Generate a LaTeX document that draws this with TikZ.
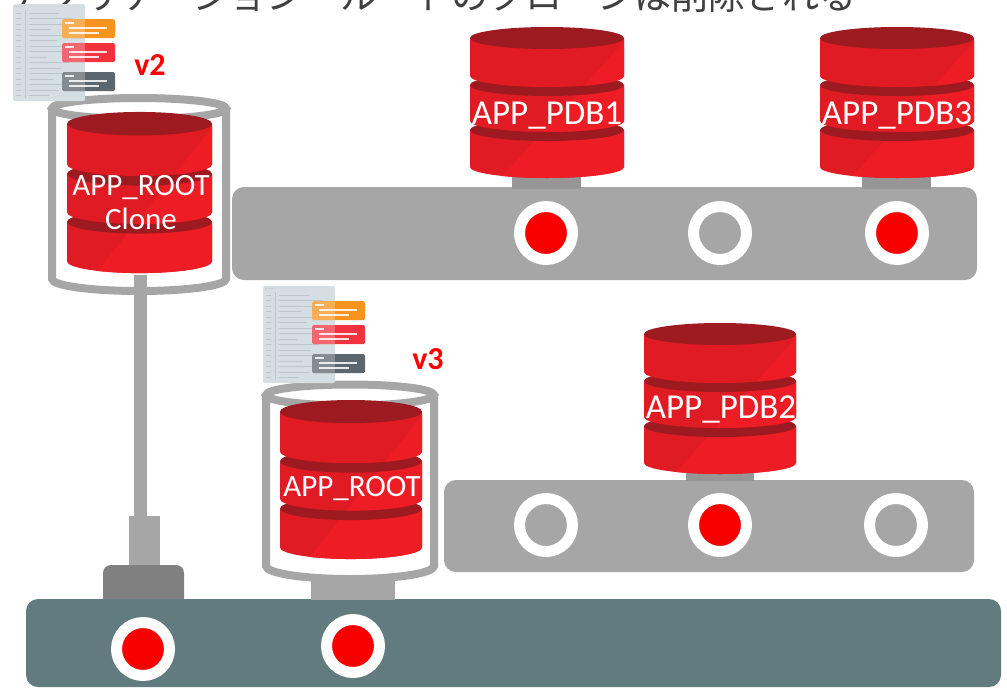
\documentclass[tikz,border=0pt]{standalone}
\usepackage{fontspec}
\setmainfont{Carlito}
\newfontfamily\jpfont{Noto Sans CJK JP}

\definecolor{dbred}{HTML}{E01B23}
\definecolor{dbredlight}{HTML}{EE1C25}
\definecolor{dbdark}{HTML}{9C1A20}
\definecolor{railgray}{HTML}{A6A6A6}
\definecolor{stemgray}{HTML}{969696}
\definecolor{blockgray}{HTML}{808080}
\definecolor{baseteal}{HTML}{627B7E}
\definecolor{portred}{HTML}{F80000}
\definecolor{vred}{HTML}{FF0000}
\definecolor{titlegray}{HTML}{404040}
\definecolor{pagecol}{HTML}{D5DEE2}
\definecolor{pageline}{HTML}{BAC7CD}
\definecolor{cardorange}{HTML}{F7941D}
\definecolor{cardred}{HTML}{F0333F}
\definecolor{carddark}{HTML}{5C666E}

\tikzset{
  cupline/.style={draw=railgray, line width=8pt},
  port/.style={circle, draw=white, line width=11pt, minimum size=53pt, inner sep=0pt},
  portfull/.style={port, fill=portred},
  portempty/.style={port, fill=railgray},
  dblabel/.style={text=white, anchor=base, inner sep=0pt, font=\fontsize{35}{40}\selectfont},
  rootlabel/.style={dblabel, font=\fontsize{31}{36}\selectfont},
  verlabel/.style={text=vred, anchor=base, inner sep=0pt, font=\bfseries\fontsize{32}{36}\selectfont},
  railbox/.style={fill=railgray, rounded corners=12pt},
}

% one slice of a database drum: #1 top-face centre, #2 bottom edge centre (local y)
\newcommand\dbslice[2]{%
  \begin{scope}
    \clip (-\dbw,#1) -- (-\dbw,#2)
      .. controls (-\dbw,#2+6.07) and (-0.552*\dbw,#2+11) .. (0,#2+11)
      .. controls (0.552*\dbw,#2+11) and (\dbw,#2+6.07) .. (\dbw,#2)
      -- (\dbw,#1) -- cycle;
    \fill[dbred] (-1.2*\dbw,-20) rectangle (1.2*\dbw,160);
    \fill[dbredlight] (-0.6*\dbw,140) -- (1.1*\dbw,-5) -- (1.2*\dbw,-5)
      -- (1.2*\dbw,160) -- (-0.6*\dbw,160) -- cycle;
  \end{scope}
  \fill[dbdark] (0,#1) ellipse [x radius=\dbw, y radius=11];
}

% three-slice database: centre x, top-face centre y, half width, vertical scale
\newcommand\dbstack[4]{%
  \begin{scope}[shift={(#1,#2)}, yscale=#4]
    \def\dbw{#3}%
    \dbslice{92}{129}%
    \dbslice{47}{83}%
    \dbslice{0}{38}%
  \end{scope}}

% open grey container: centre x, rim centre y, base centre y, x radius, base y radius
\newcommand\dbcup[5]{%
  \fill[white] (#1,#2) ellipse [x radius=#4, y radius=10.5];
  \fill[white] (#1-#4,#2) -- (#1-#4,#3)
     .. controls (#1-#4,#3+0.552*#5) and (#1-0.552*#4,#3+#5) .. (#1,#3+#5)
     .. controls (#1+0.552*#4,#3+#5) and (#1+#4,#3+0.552*#5) .. (#1+#4,#3)
     -- (#1+#4,#2) -- cycle;
  \draw[cupline] (#1,#2) ellipse [x radius=#4, y radius=10.5];
  \draw[cupline] (#1-#4,#2) -- (#1-#4,#3)
     .. controls (#1-#4,#3+0.552*#5) and (#1-0.552*#4,#3+#5) .. (#1,#3+#5)
     .. controls (#1+0.552*#4,#3+#5) and (#1+#4,#3+0.552*#5) .. (#1+#4,#3)
     -- (#1+#4,#2);
}

% script page with three code cards: top-left corner of the page
\newcommand\codecard[2]{% card colour, top y
  \fill[#1, rounded corners=1.5pt] (49,#2) rectangle (102,#2+19);
  \fill[white, opacity=0.25] (49,#2) rectangle (72,#2+19);
  \draw[white, line width=1.1pt, opacity=0.85] (52,#2+4) -- (61,#2+4);
  \draw[white, line width=1.1pt, opacity=0.85] (56,#2+9) -- (94,#2+9);
  \draw[white, line width=1.1pt, opacity=0.85] (56,#2+14) -- (86,#2+14);
}
\newcommand\docicon[2]{%
  \begin{scope}[shift={(#1,#2)}]
    \fill[pagecol, rounded corners=1.5pt] (0,0) rectangle (72,97);
    \fill[pageline] (3,2.5) circle (0.8) (6,2.5) circle (0.8) (9,2.5) circle (0.8);
    \draw[pageline, line width=0.8pt] (12,6) -- (12,94);
    \foreach \r/\l in {9/46, 14.5/60, 20/52, 25.5/38, 31/58, 36.5/44, 42/62,
                       47.5/50, 53/34, 58.5/56, 64/48, 69.5/60, 75/40, 80.5/54,
                       86/46, 91.5/36} {
      \draw[pageline, line width=0.9pt] (3,\r) -- (8,\r);
      \draw[pageline, line width=0.9pt] (16,\r) -- (\l,\r);
    }
    \codecard{cardorange}{15}
    \codecard{cardred}{39}
    \codecard{carddark}{68}
  \end{scope}}

\begin{document}
\begin{tikzpicture}[x=1pt, y=-1pt]
  \useasboundingbox (0,0) rectangle (1007,689);
  \clip (0,0) rectangle (1007,689);

  % heading
  \node[anchor=base west, inner sep=0pt, text=titlegray,
        font=\jpfont\fontsize{37}{40}\selectfont] (title) at (8,9)
        {アプリケーション・ルートのクローンは削除される};

  % upper rail with APP_PDB1 and APP_PDB3
  \fill[railbox] (232,187) rectangle (977,280);
  \fill[stemgray] (512,170) rectangle (581,189);
  \fill[stemgray] (862,170) rectangle (931,189);
  \dbstack{547}{38}{77}{1}
  \dbstack{897}{38}{77}{1}
  \node[portfull]  (u1) at (546,233) {};
  \node[portempty] (u2) at (720,233) {};
  \node[portfull]  (u3) at (897,233) {};

  % base plate with the socket for the clone
  \fill[railgray] (129,516) rectangle (160,566);
  \fill[blockgray, rounded corners=8pt] (103,565) rectangle (184,615);
  \fill[baseteal, rounded corners=12pt] (26,599) rectangle (1001,687);
  \node[portfull] (b1) at (143,649) {};
  \node[portfull] (b2) at (353,646) {};

  % application root clone on its pole
  \dbcup{139}{108.5}{279}{87}{12}
  \fill[railgray] (134,275) rectangle (147,517);
  \dbstack{139.5}{123.7}{72.5}{1.067}

  % lower rail with APP_PDB2
  \fill[railbox] (444,480) rectangle (974,572);
  \fill[stemgray] (686,466) rectangle (754,481);
  \dbstack{720}{334}{76}{1}
  \node[portempty] (m1) at (546,525) {};
  \node[portfull]  (m2) at (720,525) {};
  \node[portempty] (m3) at (896,525) {};

  % application root
  \fill[railgray] (311,575) rectangle (395,600);
  \dbcup{350}{395}{566}{84}{13}
  \dbstack{351}{411.6}{71}{1.053}

  % script icons
  \docicon{13}{4}
  \docicon{263}{286}

  % labels
  \node[dblabel] (pdb1) at (547,124) {APP\_PDB1};
  \node[dblabel] (pdb3) at (897,124) {APP\_PDB3};
  \node[dblabel] (pdb2) at (721,418) {APP\_PDB2};
  \node[rootlabel] (clonea) at (141,195) {APP\_ROOT};
  \node[rootlabel] (cloneb) at (141,229) {Clone};
  \node[rootlabel] (root) at (352,496) {APP\_ROOT};
  \node[verlabel] (v2) at (150,75) {v2};
  \node[verlabel] (v3) at (428,369) {v3};
\end{tikzpicture}
\end{document}
